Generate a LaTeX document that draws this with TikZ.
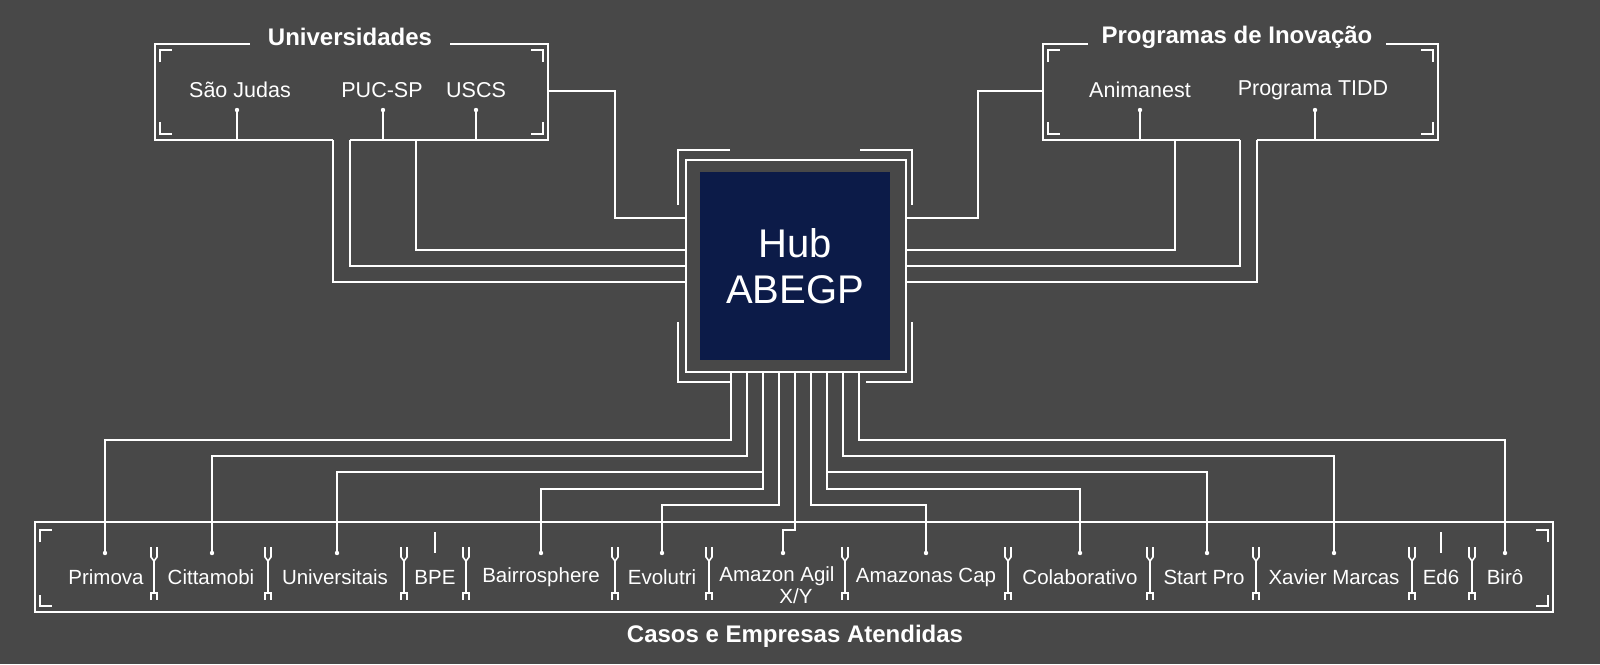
\documentclass[tikz,border=0pt]{standalone}
\usepackage{fontspec}
\setmainfont{Liberation Sans}
\begin{document}
\begin{tikzpicture}[x=1pt,y=-1pt,
  wire/.style={draw=white,line width=2.2pt,line join=miter},
  thin/.style={draw=white,line width=1.6pt},
  lbl/.style={text=white,font=\fontsize{21.5}{24}\selectfont,inner sep=1pt},
  blbl/.style={text=white,font=\fontsize{20.5}{22}\selectfont,inner sep=1pt},
  ttl/.style={text=white,font=\bfseries\fontsize{24}{26}\selectfont,inner sep=2pt}]
\definecolor{bg}{RGB}{72,72,72}
\definecolor{navy}{RGB}{12,27,72}
\fill[bg] (0,0) rectangle (1600,664);
\useasboundingbox (0,0) rectangle (1600,664);
% ---------- hub
\draw[wire,fill=bg] (686,160) rectangle (906,372);
\node[fill=navy,minimum width=190pt,minimum height=188pt,inner sep=0pt,anchor=north west] (hub) at (700,172) {};
\node[text=white,font=\fontsize{40}{46}\selectfont,align=center] (hubt) at (795,266) {Hub\\ABEGP};
\draw[wire] (730,150)--(678,150)--(678,205);
\draw[wire] (860,150)--(912,150)--(912,205);
\draw[wire] (678,322)--(678,382)--(730,382);
\draw[wire] (912,322)--(912,382)--(866,382);
% ---------- Universidades
\draw[wire] (250,44)--(155,44)--(155,140)--(333,140);
\draw[wire] (350,140)--(548,140)--(548,44)--(450,44);
\node[ttl] (tuni) at (350,37) {Universidades};
\draw[thin] (160,62)--(160,50)--(172,50);
\draw[thin] (531,50)--(543,50)--(543,62);
\draw[thin] (160,122)--(160,134)--(172,134);
\draw[thin] (531,134)--(543,134)--(543,122);
\node[lbl] (sj) at (240,90) {São Judas};
\node[lbl] (puc) at (382,90) {PUC-SP};
\node[lbl] (uscs) at (476,90) {USCS};
\foreach \x in {237,383,476}{\draw[thin] (\x,110)--(\x,140); \fill[white] (\x,110) circle (2.2pt);}
% ---------- Programas
\draw[wire] (1088,44)--(1043,44)--(1043,140)--(1240,140);
\draw[wire] (1257,140)--(1438,140)--(1438,44)--(1386,44);
\node[ttl] (tprog) at (1237,37) {Programas de Inovação};
\draw[thin] (1048,62)--(1048,50)--(1060,50);
\draw[thin] (1421,50)--(1433,50)--(1433,62);
\draw[thin] (1048,122)--(1048,134)--(1060,134);
\draw[thin] (1421,134)--(1433,134)--(1433,122);
\node[lbl] (anim) at (1140,90) {Animanest};
\node[lbl] (tidd) at (1313,90) {Programa TIDD};
\foreach \x in {1140,1315}{\draw[thin] (\x,110)--(\x,140); \fill[white] (\x,110) circle (2.2pt);}
% ---------- top connectors
\draw[wire] (548,91)--(615,91)--(615,218)--(686,218);
\draw[wire] (333,140)--(333,282)--(686,282);
\draw[wire] (350,140)--(350,266)--(686,266);
\draw[wire] (416,140)--(416,250)--(686,250);
\draw[wire] (1043,91)--(978,91)--(978,218)--(906,218);
\draw[wire] (1257,140)--(1257,282)--(906,282);
\draw[wire] (1240,140)--(1240,266)--(906,266);
\draw[wire] (1175,140)--(1175,250)--(906,250);
% ---------- bottom box
\draw[wire] (35,522) rectangle (1553,612);
\draw[thin] (40,542)--(40,530)--(52,530);
\draw[thin] (40,595)--(40,606)--(52,606);
\draw[thin] (1536,530)--(1548,530)--(1548,542);
\draw[thin] (1548,595)--(1548,606)--(1536,606);
\node[ttl] (tcasos) at (795,636) {Casos e Empresas Atendidas};
\node[blbl] (primova) at (106,577) {Primova};
\node[blbl] (citta) at (211,577) {Cittamobi};
\node[blbl] (univ) at (335,577) {Universitais};
\node[blbl] (bpe) at (435,577) {BPE};
\node[blbl] (bairro) at (541,577) {Bairrosphere};
\node[blbl] (evol) at (662,577) {Evolutri};
\node[blbl,align=center,anchor=north] (amag) at (777,565) {Amazon Agil\\\hspace*{38pt}X/Y};
\node[blbl] (amcap) at (926,577) {Amazonas Cap};
\node[blbl] (colab) at (1080,577) {Colaborativo};
\node[blbl] (start) at (1204,577) {Start Pro};
\node[blbl] (xav) at (1334,577) {Xavier Marcas};
\node[blbl] (ed6) at (1441,577) {Ed6};
\node[blbl] (biro) at (1505,577) {Birô};
\foreach \x in {154,268,404,466,615,709,845,1008,1150,1256,1412,1472}{
  \draw[thin] (\x-3,547)--(\x-3,557)--(\x,561)--(\x+3,557)--(\x+3,547);
  \draw[thin] (\x,561)--(\x,592);
  \draw[thin] (\x-3,600)--(\x-3,593)--(\x+3,593)--(\x+3,600);}
\draw[thin] (435,532)--(435,553);
\draw[thin] (1441,532)--(1441,553);
% ---------- bottom connectors
\draw[wire] (731,372)--(731,440)--(105,440)--(105,553);
\draw[wire] (747,372)--(747,456)--(212,456)--(212,553);
\draw[wire] (763,372)--(763,489)--(541,489)--(541,553);
\draw[wire] (763,472)--(337,472)--(337,553);
\draw[wire] (779,372)--(779,505)--(662,505)--(662,553);
\draw[wire] (795,372)--(795,530)--(783,530)--(783,553);
\draw[wire] (811,372)--(811,505)--(926,505)--(926,553);
\draw[wire] (827,372)--(827,489)--(1080,489)--(1080,553);
\draw[wire] (827,472)--(1207,472)--(1207,553);
\draw[wire] (843,372)--(843,456)--(1334,456)--(1334,553);
\draw[wire] (859,372)--(859,440)--(1505,440)--(1505,553);
\foreach \x in {105,212,337,541,662,783,926,1080,1207,1334,1505}{\fill[white] (\x,553) circle (2.2pt);}
\end{tikzpicture}
\end{document}
